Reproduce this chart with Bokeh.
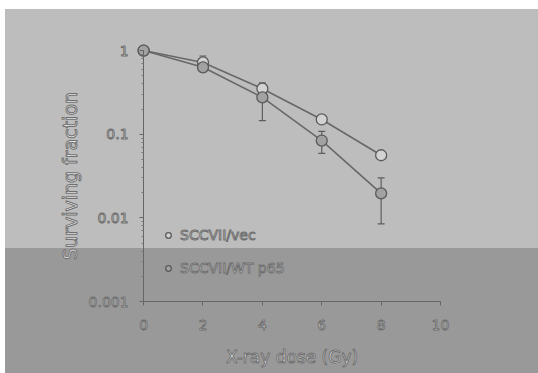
from bokeh.plotting import figure
from bokeh.models import (ColumnDataSource, Whisker, TeeHead, FixedTicker,
                          CustomJSTickFormatter, Legend, LegendItem, Range1d)
from bokeh.embed import file_html
from bokeh.resources import INLINE

# ---- data ----
dose = [0, 2, 4, 6, 8]
vec_sf = [1.0, 0.72, 0.35, 0.15, 0.056]
vec_hi = [1.0, 0.86, 0.41, 0.165, 0.062]
vec_lo = [1.0, 0.64, 0.31, 0.137, 0.051]
p65_sf = [1.0, 0.63, 0.275, 0.084, 0.0196]
p65_hi = [1.0, 0.70, 0.37, 0.108, 0.030]
p65_lo = [1.0, 0.56, 0.145, 0.059, 0.0085]

x_ticks = [0, 2, 4, 6, 8, 10]
y_ticks = [0.001, 0.01, 0.1, 1]
y_minor = [m * d for d in [0.001, 0.01, 0.1] for m in range(2, 10)]

TXT = "#eeeeee"
OUT = "#707070"
FONT = "DejaVu Sans"

p = figure(width=538, height=373, output_backend="svg", toolbar_location=None,
           x_axis_type="linear", y_axis_type="log",
           x_range=Range1d(-4.82, 13.3), y_range=Range1d(10 ** -3.86, 10 ** 0.598),
           min_border_left=0, min_border_right=0, min_border_top=0,
           min_border_bottom=0)
p.border_fill_color = None
p.background_fill_color = None
p.outline_line_color = None
p.grid.visible = False
p.styles = {"background": "linear-gradient(to right, #ffffff 0px, #ffffff 5px, transparent 5px), "
                          "linear-gradient(to bottom, #ffffff 0px, #ffffff 9px, #bdbdbd 9px, #bdbdbd 248px, #999999 248px, #999999 100%)"}

src_v = ColumnDataSource(dict(x=dose, y=vec_sf, hi=vec_hi, lo=vec_lo))
src_p = ColumnDataSource(dict(x=dose, y=p65_sf, hi=p65_hi, lo=p65_lo))

LC = "#686868"
p.line("x", "y", source=src_v, line_color=LC, line_width=1.6)
p.line("x", "y", source=src_p, line_color=LC, line_width=1.6)

for s in (src_v, src_p):
    w = Whisker(source=s, base="x", upper="hi", lower="lo", line_color="#5e5e5e",
                line_width=1.2,
                upper_head=TeeHead(size=7, line_color="#5e5e5e", line_width=1.2),
                lower_head=TeeHead(size=7, line_color="#5e5e5e", line_width=1.2))
    p.add_layout(w)

r_v = p.scatter("x", "y", source=src_v, marker="circle", size=11,
                fill_color="#d2d2d2", line_color="#5a5a5a", line_width=1.3)
r_p = p.scatter("x", "y", source=src_p, marker="circle", size=11,
                fill_color="#a2a2a2", line_color="#5a5a5a", line_width=1.3)

# axes
for ax in (p.xaxis[0], p.yaxis[0]):
    ax.axis_line_color = "#666666"
    ax.major_tick_line_color = "#666666"
    ax.minor_tick_line_color = "#777777"
    ax.major_tick_in = 0
    ax.major_tick_out = 4
    ax.minor_tick_in = 0
    ax.minor_tick_out = 2
    ax.major_label_text_font = FONT
    ax.major_label_text_font_size = "14px"
    ax.major_label_text_color = TXT
    ax.major_label_text_outline_color = OUT
    ax.axis_label_text_font = FONT
    ax.axis_label_text_font_style = "normal"
    ax.axis_label_text_color = TXT
    ax.axis_label_text_outline_color = OUT

p.xaxis.fixed_location = 0.001
p.yaxis.fixed_location = 0
p.xaxis.bounds = (0, 10)
p.yaxis.bounds = (0.001, 1)

p.xaxis.ticker = FixedTicker(ticks=x_ticks)
p.yaxis.ticker = FixedTicker(ticks=y_ticks, minor_ticks=y_minor)
p.yaxis.formatter = CustomJSTickFormatter(code="return String(tick)")

p.xaxis.axis_label = "X-ray dose (Gy)"
p.xaxis.axis_label_text_font_size = "17px"
p.xaxis.major_label_standoff = 14
p.xaxis.axis_label_standoff = 14
p.yaxis.axis_label = "Surviving fraction"
p.yaxis.axis_label_text_font_size = "19px"
p.yaxis.major_label_standoff = 11
p.yaxis.axis_label_standoff = 4

legend = Legend(items=[LegendItem(label="SCCVII/vec", renderers=[r_v]),
                       LegendItem(label="SCCVII/WT p65", renderers=[r_p])],
                location=(161, 95), padding=0, margin=0, spacing=13,
                glyph_width=14, glyph_height=20, label_height=20,
                label_standoff=5, background_fill_alpha=0,
                border_line_color=None,
                label_text_font=FONT, label_text_font_size="14px",
                label_text_color=TXT, label_text_outline_color=OUT)
p.add_layout(legend)

open("out.html", "w").write(file_html(p, INLINE))
